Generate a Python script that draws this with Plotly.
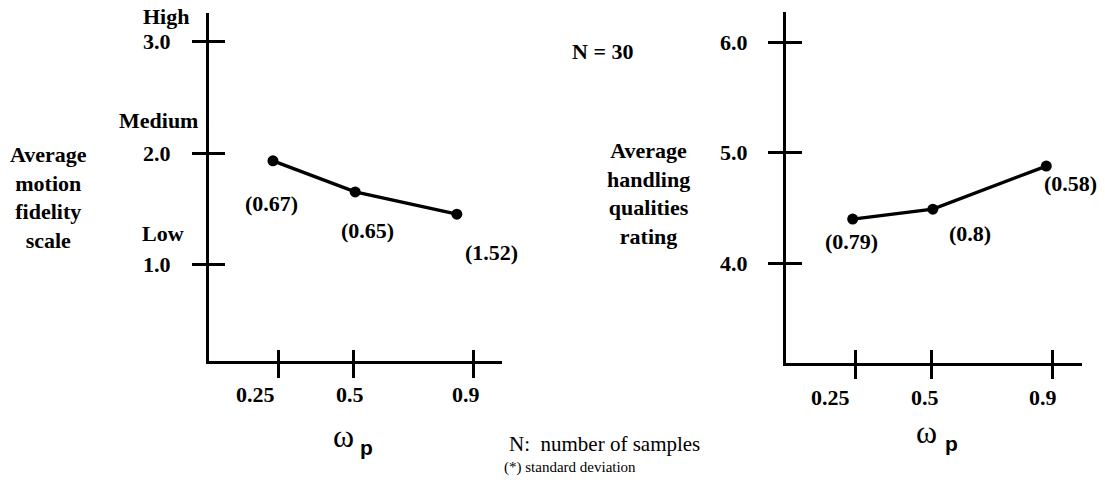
import plotly.graph_objects as go

# ---------------- data ----------------
omega_ticks = [0.25, 0.5, 0.9]
omega_tick_labels = ["0.25", "0.5", "0.9"]

# left panel: average motion fidelity scale
left_x = [0.23, 0.505, 0.845]
left_y = [1.93, 1.65, 1.45]
left_sd = ["(0.67)", "(0.65)", "(1.52)"]
left_yticks = [1.0, 2.0, 3.0]
left_ytick_labels = ["1.0", "2.0", "3.0"]
left_levels = ["Low", "Medium", "High"]

# right panel: average handling qualities rating
right_x = [0.24, 0.505, 0.88]
right_y = [4.40, 4.49, 4.88]
right_sd = ["(0.79)", "(0.8)", "(0.58)"]
right_yticks = [4.0, 5.0, 6.0]
right_ytick_labels = ["4.0", "5.0", "6.0"]

# ---------------- style / layout ----------------
W, H = 1105, 486
SERIF = "Liberation Serif"
BLACK = "black"
FS = 22

left_sd_shift = [(-1, -43), (12, -39), (35, -38)]
right_sd_shift = [(-1, -22), (37, -24), (24, -17)]
left_level_shift = [(-46, 31), (-51, 33), (-43, 25)]
xlabel_shift = [-23, -4, -7]

fig = go.Figure()

fig.add_trace(go.Scatter(x=left_x, y=left_y, mode="lines+markers",
                         line=dict(color=BLACK, width=3.4),
                         marker=dict(color=BLACK, size=11),
                         xaxis="x", yaxis="y", showlegend=False, hoverinfo="skip"))
fig.add_trace(go.Scatter(x=right_x, y=right_y, mode="lines+markers",
                         line=dict(color=BLACK, width=3.4),
                         marker=dict(color=BLACK, size=11),
                         xaxis="x2", yaxis="y2", showlegend=False, hoverinfo="skip"))
# empty traces so that the overlay (inner tick) axes exist
fig.add_trace(go.Scatter(x=[], y=[], xaxis="x3", yaxis="y3", showlegend=False))
fig.add_trace(go.Scatter(x=[], y=[], xaxis="x4", yaxis="y4", showlegend=False))

def base(**kw):
    d = dict(showgrid=False, zeroline=False, showticklabels=False,
             tickmode="array", tickcolor=BLACK, tickwidth=3, fixedrange=True)
    d.update(kw)
    return d

L_XDOM = [209 / W, 502 / W]
L_YDOM = [1 - 361 / H, 1 - 13 / H]
L_XR = [0.016, 0.996]
L_YR = [0.131, 3.258]
R_XDOM = [786 / W, 1081.7 / W]
R_YDOM = [1 - 362.7 / H, 1 - 11.7 / H]
R_XR = [0.0196, 0.997]
R_YR = [3.100, 6.277]

fig.update_layout(
    width=W, height=H, autosize=False,
    margin=dict(l=0, r=0, t=0, b=0),
    paper_bgcolor="white", plot_bgcolor="white",
    font=dict(family=SERIF, color=BLACK, size=FS),
    xaxis=base(domain=L_XDOM, range=L_XR, anchor="y", showline=True, linewidth=3,
               linecolor=BLACK, ticks="outside", ticklen=14, tickvals=omega_ticks),
    yaxis=base(domain=L_YDOM, range=L_YR, anchor="x", showline=True, linewidth=3,
               linecolor=BLACK, ticks="outside", ticklen=14, tickvals=left_yticks),
    xaxis3=base(overlaying="x", range=L_XR, anchor="y3", ticks="inside", ticklen=11,
                tickvals=omega_ticks, showline=False),
    yaxis3=base(overlaying="y", range=L_YR, anchor="x3", ticks="inside", ticklen=16,
                tickvals=left_yticks, showline=False, side="left"),
    xaxis2=base(domain=R_XDOM, range=R_XR, anchor="y2", showline=True, linewidth=3,
                linecolor=BLACK, ticks="outside", ticklen=13, tickvals=omega_ticks),
    yaxis2=base(domain=R_YDOM, range=R_YR, anchor="x2", showline=True, linewidth=3,
                linecolor=BLACK, ticks="outside", ticklen=15, tickvals=right_yticks),
    xaxis4=base(overlaying="x2", range=R_XR, anchor="y4", ticks="inside", ticklen=13,
                tickvals=omega_ticks, showline=False),
    yaxis4=base(overlaying="y2", range=R_YR, anchor="x4", ticks="inside", ticklen=16,
                tickvals=right_yticks, showline=False, side="left"),
)

ann = []

def bold(t):
    return "<b>" + t + "</b>"

def A(**kw):
    d = dict(showarrow=False, xanchor="center", yanchor="middle", font=dict(size=FS))
    d.update(kw)
    ann.append(d)

# standard deviation labels
for xv, yv, t, (dx, dy) in zip(left_x, left_y, left_sd, left_sd_shift):
    A(x=xv, y=yv, xref="x", yref="y", text=bold(t), xshift=dx, yshift=dy)
for xv, yv, t, (dx, dy) in zip(right_x, right_y, right_sd, right_sd_shift):
    A(x=xv, y=yv, xref="x2", yref="y2", text=bold(t), xshift=dx, yshift=dy)

# y tick labels
for v, t in zip(left_yticks, left_ytick_labels):
    A(x=0, xref="x domain", y=v, yref="y", text=bold(t), xshift=-52)
for v, t, (dx, dy) in zip(left_yticks, left_levels, left_level_shift):
    A(x=0, xref="x domain", y=v, yref="y", text=bold(t), xshift=dx, yshift=dy)
for v, t in zip(right_yticks, right_ytick_labels):
    A(x=0, xref="x2 domain", y=v, yref="y2", text=bold(t), xshift=-52)

# x tick labels
for v, t, dx in zip(omega_ticks, omega_tick_labels, xlabel_shift):
    A(x=v, xref="x", y=0, yref="y domain", text=bold(t), xshift=dx, yshift=-33)
    A(x=v, xref="x2", y=0, yref="y2 domain", text=bold(t), xshift=dx - 2, yshift=-35)

# axis titles (omega_p)
for wx, wy, px, py in [(343, 436, 366, 447), (926.7, 432, 951.7, 443)]:
    A(x=wx / W, y=1 - wy / H, xref="paper", yref="paper", text="ω",
      font=dict(size=32, family=SERIF))
    A(x=px / W, y=1 - py / H, xref="paper", yref="paper", text="<b>p</b>",
      font=dict(size=21, family="Liberation Sans"))

# y titles
A(x=48 / W, y=1 - 197 / H, xref="paper", yref="paper",
  text=bold("Average<br>motion<br>fidelity<br>scale"), align="center")
A(x=648 / W, y=1 - 193 / H, xref="paper", yref="paper",
  text=bold("Average<br>handling<br>qualities<br>rating"), align="center")

# other texts
A(x=602.7 / W, y=1 - 51.7 / H, xref="paper", yref="paper", text=bold("N = 30"))
A(x=506.7 / W, y=1 - 444 / H, xref="paper", yref="paper", xanchor="left",
  text="N:\u00a0 number of samples", font=dict(size=21))
A(x=501.7 / W, y=1 - 467 / H, xref="paper", yref="paper", xanchor="left",
  text="(*) standard deviation", font=dict(size=15))

fig.update_layout(annotations=ann)
fig.write_html("out.html", config={"displayModeBar": False},
               post_script="document.body.style.margin='0';document.body.style.padding='0';")
